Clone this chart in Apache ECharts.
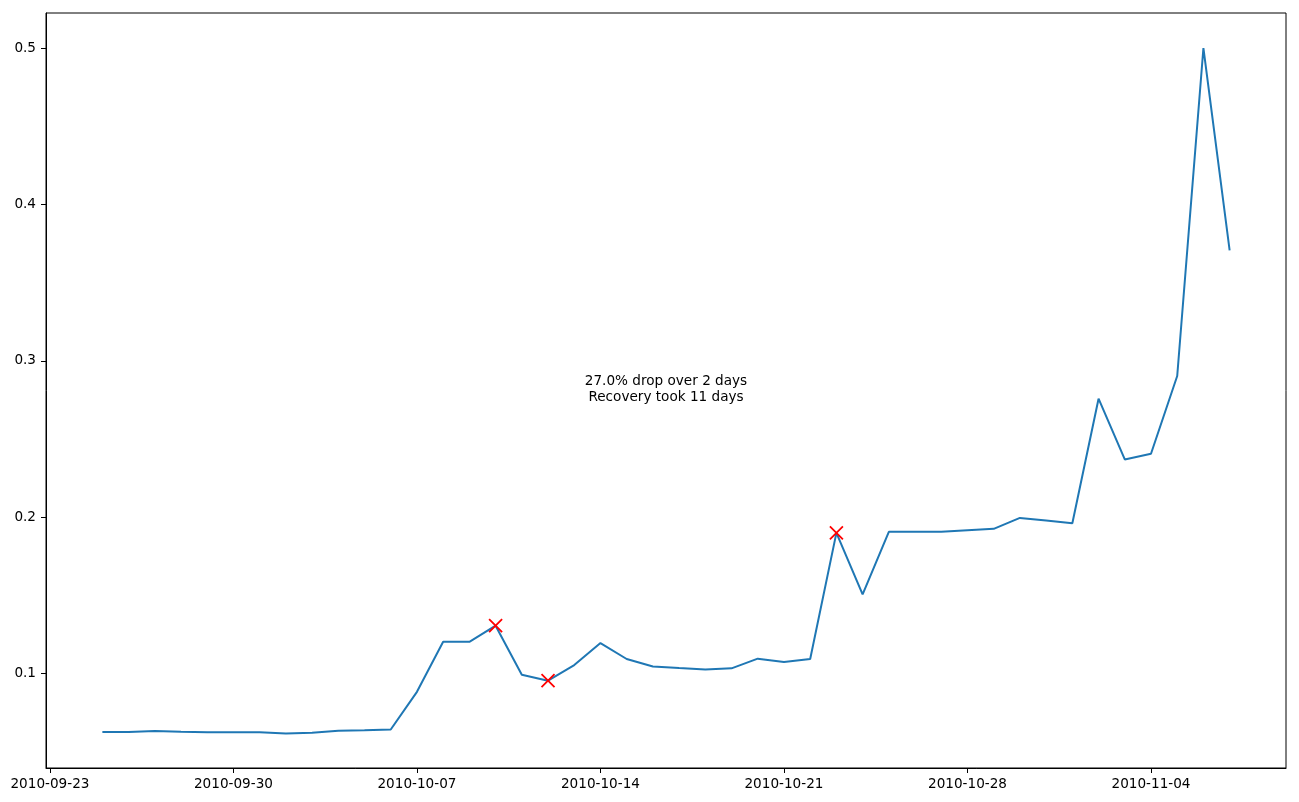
<!DOCTYPE html>
<html>
<head>
<meta charset="utf-8">
<script src="https://cdn.jsdelivr.net/npm/echarts@6/dist/echarts.min.js"></script>
<style>
html,body{margin:0;padding:0;background:#fff;}
#chart{width:1299px;height:802px;}
</style>
</head>
<body>
<div id="chart"></div>
<script>
var dates = [
 '2010-09-25','2010-09-26','2010-09-27','2010-09-28','2010-09-29','2010-09-30',
 '2010-10-01','2010-10-02','2010-10-03','2010-10-04','2010-10-05','2010-10-06',
 '2010-10-07','2010-10-08','2010-10-09','2010-10-10','2010-10-11','2010-10-12',
 '2010-10-13','2010-10-14','2010-10-15','2010-10-16','2010-10-17','2010-10-18',
 '2010-10-19','2010-10-20','2010-10-21','2010-10-22','2010-10-23','2010-10-24',
 '2010-10-25','2010-10-26','2010-10-27','2010-10-28','2010-10-29','2010-10-30',
 '2010-10-31','2010-11-01','2010-11-02','2010-11-03','2010-11-04','2010-11-05',
 '2010-11-06','2010-11-07'
];
var values = [
 0.0627,0.0627,0.0633,0.0628,0.0625,0.0625,
 0.0625,0.0617,0.0623,0.0635,0.0638,0.0643,
 0.0884,0.1204,0.1204,0.1307,0.0993,0.0955,
 0.1055,0.1196,0.1094,0.1046,0.1036,0.1027,
 0.1034,0.1096,0.1075,0.1094,0.1900,0.1507,
 0.1907,0.1907,0.1907,0.1917,0.1926,0.1996,
 0.1979,0.1962,0.2758,0.2370,0.2406,0.2903,
 0.5000,0.3706
];
var markerDates = ['2010-10-10','2010-10-12','2010-10-23'];
var xTickLabels = ['2010-09-23','2010-09-30','2010-10-07','2010-10-14','2010-10-21','2010-10-28','2010-11-04'];
var yTickLabels = [0.1,0.2,0.3,0.4,0.5];
var annotationText = '27.0% drop over 2 days\nRecovery took 11 days';
var annotationPos = ['2010-10-16T12:00:00', 0.2816];

var DAY = 86400000;
var origin = Date.parse(xTickLabels[0] + 'T00:00:00Z');
function dayOf(s){ return (Date.parse((s.length === 10 ? s + 'T00:00:00' : s) + 'Z') - origin) / DAY; }

var lineData = dates.map(function(d,i){ return [dayOf(d), values[i]]; });
var markerData = markerDates.map(function(d){ return [dayOf(d), values[dates.indexOf(d)]]; });
var xTicks = xTickLabels.map(dayOf);

var font = 'DejaVu Sans';
var chart = echarts.init(document.getElementById('chart'), null, {renderer:'canvas'});
chart.setOption({
  animation: false,
  backgroundColor: '#fff',
  grid: {left:46, right:13, top:13, bottom:34, show:true, borderColor:'#000', borderWidth:1, backgroundColor:'transparent'},
  xAxis: {
    type:'value', min:-0.15, max:47.15,
    splitLine:{show:false},
    axisLine:{show:true, onZero:false, lineStyle:{color:'#000', width:1}},
    axisTick:{show:true, length:5, lineStyle:{color:'#000'}, customValues: xTicks},
    axisLabel:{show:true, margin:9, color:'#000', fontFamily:font, fontSize:13.6,
      customValues: xTicks,
      formatter:function(v){ var i = xTicks.indexOf(v); return i>=0 ? xTickLabels[i] : ''; }}
  },
  yAxis: {
    type:'value', min:0.0397, max:0.5224,
    splitLine:{show:false},
    axisLine:{show:true, onZero:false, lineStyle:{color:'#000', width:1}},
    axisTick:{show:true, length:5, lineStyle:{color:'#000'}, customValues: yTickLabels},
    axisLabel:{show:true, margin:10, color:'#000', fontFamily:font, fontSize:13.6,
      customValues: yTickLabels,
      formatter:function(v){ return String(Math.round(v*10)/10); }}
  },
  series: [
    {type:'line', data:lineData, symbol:'none', lineStyle:{color:'#1f77b4', width:2}, z:2},
    {type:'scatter', data:markerData, symbol:'path://M0,0L10,10M10,0L0,10', symbolSize:13,
      itemStyle:{color:'none', borderColor:'#ff0000', borderWidth:1.8, opacity:1}, z:3},
    {type:'scatter', data:[[dayOf(annotationPos[0]), annotationPos[1]]], symbolSize:0, silent:true,
      itemStyle:{color:'#000', opacity:1},
      label:{show:true, position:'inside', formatter:annotationText, color:'#000', fontFamily:font,
        fontSize:13.6, lineHeight:16, align:'center', verticalAlign:'middle',
        textBorderWidth:0, textBorderColor:'transparent', opacity:1}, z:4}
  ]
});
</script>
</body>
</html>
